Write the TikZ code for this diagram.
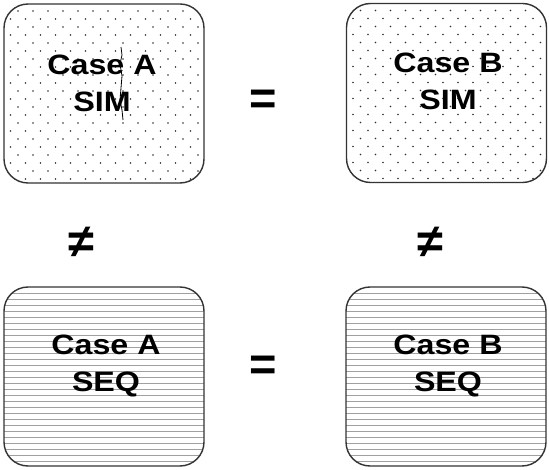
\documentclass[tikz,border=0pt]{standalone}
\usepackage{fontspec}
\newfontfamily\labfont[FakeStretch=1.15]{Liberation Sans}
\newfontfamily\relfont{Liberation Sans}
\definecolor{boxline}{HTML}{333333}
\definecolor{dotcol}{HTML}{2E2E2E}
\definecolor{hatchcol}{HTML}{A0A0A0}
\tikzset{
  casebox/.style={draw=boxline, line width=1.4pt, rounded corners=24pt,
    minimum width=200pt, minimum height=179pt, inner sep=0pt},
  dotbox/.style={casebox, path picture={
    \foreach \r in {0,...,23}{
      \pgfmathsetmacro\off{mod(\r,2)*7.5}
      \foreach \c in {0,...,14}{
        \fill[dotcol] ([xshift=14-\off+\c*15, yshift=-7-\r*8]path picture bounding box.north west) circle (0.9pt);
      }
    }}},
  linebox/.style={casebox, path picture={
    \foreach \r in {1,...,31}{
      \draw[hatchcol, line width=0.9pt]
        ([yshift=-\r*6]path picture bounding box.north west) --
        ([yshift=-\r*6]path picture bounding box.north east);
    }}},
  caselabel/.style={font=\labfont\bfseries\fontsize{28}{37}\selectfont,
    align=center, inner sep=0pt},
  relation/.style={font=\relfont\bfseries\fontsize{47}{47}\selectfont, inner sep=0pt}
}
\begin{document}
\begin{tikzpicture}[x=1pt, y=-1pt]
  \useasboundingbox (0,0) rectangle (549,470);

  % the four cases
  \node[dotbox]  (simA) at (104,93.5) {};
  \node[dotbox]  (simB) at (446.5,93) {};
  \node[linebox] (seqA) at (104,376.5) {};
  \node[linebox] (seqB) at (446,376.5) {};

  \node[caselabel] (simAtext) at (102,83.5) {Case A\\SIM};
  \node[caselabel] (simBtext) at (448,81.5) {Case B\\SIM};
  \node[caselabel] (seqAtext) at (106,366) {Case A\\SEQ};
  \node[caselabel] (seqBtext) at (448,366) {Case B\\SEQ};

  % relations between the cases
  \node[relation] (eqtop)    at (263,102) {=};
  \node[relation] (eqbot)    at (263,368) {=};
  \node[relation] (neqleft)  at (81,242)  {≠};
  \node[relation] (neqright) at (430,242) {≠};

  % stray pen stroke through the first label
  \draw[black, line width=0.8pt, line join=round]
    (121,47) -- (122,55) -- (120,64) -- (122,76) -- (121,88) -- (120,100) -- (122,110) -- (123,120);
\end{tikzpicture}
\end{document}
